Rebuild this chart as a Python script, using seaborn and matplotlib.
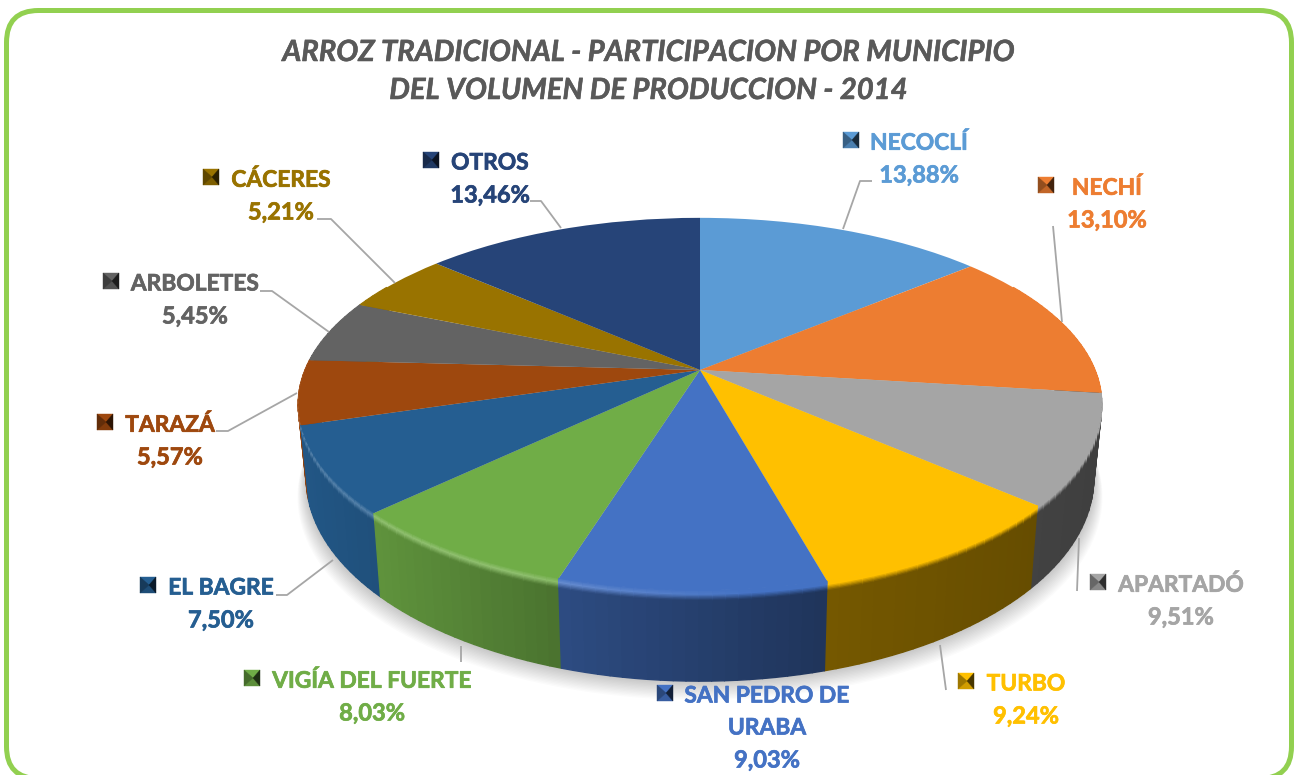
import numpy as np
import matplotlib
matplotlib.use("Agg")
import matplotlib.pyplot as plt
import matplotlib.patheffects as pe
import seaborn as sns
from matplotlib.collections import PolyCollection
from matplotlib.patches import FancyBboxPatch
from matplotlib.transforms import Transform

TITLE = ["ARROZ TRADICIONAL - PARTICIPACION POR MUNICIPIO",
         "DEL VOLUMEN DE PRODUCCION - 2014"]
MUNICIPIOS = ["NECOCLÍ", "NECHÍ", "APARTADÓ", "TURBO", "SAN PEDRO DE\nURABA",
              "VIGÍA DEL FUERTE", "EL BAGRE", "TARAZÁ", "ARBOLETES", "CÁCERES", "OTROS"]
PARTICIPACION = [13.88, 13.10, 9.51, 9.24, 9.03, 8.03, 7.50, 5.57, 5.45, 5.21, 13.46]
COLORES = ["#5B9BD5", "#ED7D31", "#A5A5A5", "#FFC000", "#4472C4", "#70AD47",
           "#255E91", "#9E480E", "#636363", "#997300", "#264478"]

# label layout: text centre x, first line y, marker x
LABEL_X = [919, 1107, 1181, 1026, 767, 372, 221, 170, 195, 281, 490]
LABEL_Y = [143, 188, 585, 684, 696, 681, 588, 425, 284, 180, 163]
MARK_X = [851, 1046, 1098, 966, 665, 252, 148, 105, 111, 211, 431]
LEADERS = [[(843, 229), (860, 181), (872, 181)],
           [(1053, 226), (1062, 322)],
           [(1079, 538), (1077, 591)],
           [(940, 645), (946, 690)],
           None,
           [(461, 646), (461, 662)],
           [(333, 560), (287, 595), (276, 595)],
           [(297, 393), (228, 431), (216, 431)],
           [(329, 332), (272, 291), (260, 291)],
           [(395, 283), (331, 219), (317, 219)],
           [(561, 228), (541, 201), (530, 201)]]

# view of the tilted disc
CX, CY, RX, RY, PERSP = 700.0, 370.0, 395.0, 180.0, 0.183
FOOT_X, FOOT_YS, FOOT_DY = 0.98, 1.09, 71.0


def project(x, y, z=0.0):
    """Unit-disc coordinates -> pixel coordinates; z runs 0 (top) .. 1 (foot)."""
    den = 1 + PERSP * y
    px = RX * x / den
    py = -RY * y / den
    px = px * (1 + (FOOT_X - 1) * z)
    py = py + z * ((FOOT_YS - 1) * py + FOOT_DY)
    return CX + px, CY + py


class DiscTransform(Transform):
    input_dims = output_dims = 2
    is_separable = False
    has_inverse = False

    def transform_non_affine(self, values):
        values = np.asarray(values, dtype=float)
        return np.column_stack(project(values[:, 0], values[:, 1]))


def mix(a, b, t):
    return tuple(np.asarray(a) * (1 - t) + np.asarray(b) * t)


sns.set_theme(style="white")
plt.rcParams["font.family"] = ["Lato", "DejaVu Sans"]
palette = sns.color_palette(COLORES)

fig = plt.figure(figsize=(13, 7.75), dpi=100, facecolor="white")
ax = fig.add_axes([0, 0, 1, 1])

wedges, _ = ax.pie(PARTICIPACION, colors=palette, startangle=90, counterclock=False,
                   wedgeprops=dict(linewidth=0))
ax.set_aspect("auto")
ax.set_xlim(0, 1300)
ax.set_ylim(775, 0)
ax.axis("off")

# rounded frame
ax.add_patch(FancyBboxPatch((6.5, 10.5), 1285, 768, boxstyle="round,pad=0,rounding_size=32",
                            fc="white", ec="#92D050", lw=3.6, zorder=0))

# soft floor shadow
angles = np.radians(np.linspace(0, 360, 241))
for k in range(14, 0, -1):
    sx, sy = project(np.sin(angles), np.cos(angles), 1.0)
    sx = CX + (sx - CX) * (1 + 0.0016 * k)
    sy = sy + 1.35 * k
    ax.fill(sx, sy, color="black", alpha=0.016, lw=0, zorder=1)

# side wall with a lit rim
edges = np.cumsum([0] + PARTICIPACION) / sum(PARTICIPACION) * 360
BEVEL = 0.115
z_levels = np.r_[np.linspace(0, BEVEL, 9), 1.0]
faces, face_cols, order = [], [], []
for i, base in enumerate(palette):
    lo, hi = max(edges[i], 60), min(edges[i + 1], 300)
    if hi <= lo:
        continue
    n = max(2, int((hi - lo) / 1.5))
    th = np.radians(np.linspace(lo, hi, n + 1))
    for a, b in zip(th[:-1], th[1:]):
        xa, ya = np.sin(a), np.cos(a)
        xb, yb = np.sin(b), np.cos(b)
        xm = (xa + xb) / 2
        px = RX * xm / (1 + PERSP * (ya + yb) / 2)
        shade = np.interp(px, [-400, -326, -140, 127, 337, 400], [0.92, 0.85, 0.66, 0.46, 0.40, 0.38])
        wall = mix((0, 0, 0), base, shade)
        glow = np.clip((60 - px) / 240, 0, 1)
        light = mix(base, (1, 1, 1), 0.22 * glow)
        for z0, z1 in zip(z_levels[:-1], z_levels[1:]):
            zc = (z0 + z1) / 2
            u = zc / BEVEL
            if u >= 1:
                col = wall
            elif u < 0.45:
                col = mix(base, light, u / 0.45)
            else:
                col = mix(light, wall, (u - 0.45) / 0.55)
            p = [project(xa, ya, z0), project(xb, yb, z0), project(xb, yb, z1), project(xa, ya, z1)]
            faces.append(p)
            face_cols.append(col)
            order.append((ya + yb) / 2 - 1e-3 * zc)
idx = np.argsort(-np.asarray(order))
ax.add_collection(PolyCollection([faces[j] for j in idx], facecolors=[face_cols[j] for j in idx],
                                 edgecolors="face", linewidths=1.0, zorder=2))

# top face comes from the pie itself
disc = DiscTransform()
for w in wedges:
    w.set_transform(disc + ax.transData)
    w.set_zorder(3)
    w.set_clip_on(False)

# leaders, labels, bevelled key squares
for i, name in enumerate(MUNICIPIOS):
    col = palette[i]
    if LEADERS[i]:
        xs, ys = zip(*LEADERS[i])
        ax.plot(xs, ys, color="#A6A6A6", lw=1.3, zorder=4, solid_capstyle="butt")
    names = name.split("\n")
    lines = names + [f"{PARTICIPACION[i]:.2f}".replace(".", ",") + "%"]
    for j, line in enumerate(lines):
        size = 16.4 if j < len(names) else 17
        ax.text(LABEL_X[i], LABEL_Y[i] + j * 32, line, color=col, fontsize=size, fontweight="bold",
                ha="center", va="center", zorder=5,
                path_effects=[pe.withStroke(linewidth=0.5, foreground=col)])
    mx, my, h = MARK_X[i], LABEL_Y[i] - 3, 8
    ax.fill([mx - h, mx + h, mx + h, mx - h], [my - h, my - h, my + h, my + h], color=col, lw=0, zorder=5)
    ax_, ay_ = mx + 1, my
    tris = [([mx - h, mx + h, ax_], [my - h, my - h, ay_], col),
            ([mx - h, mx + h, ax_], [my + h, my + h, ay_], mix((0, 0, 0), col, 0.82)),
            ([mx - h, mx - h, ax_], [my - h, my + h, ay_], mix((0, 0, 0), col, 0.62)),
            ([mx + h, mx + h, ax_], [my - h, my + h, ay_], mix((0, 0, 0), col, 0.28))]
    for tx, ty, c in tris:
        ax.fill(tx, ty, facecolor=c, edgecolor=c, lw=0.3, zorder=6)

for y, line in zip((53, 91), TITLE):
    ax.text(648, y, line, color="#595959", fontsize=21, fontweight="bold", fontstyle="italic",
            ha="center", va="center", zorder=5,
            path_effects=[pe.withStroke(linewidth=0.4, foreground="#595959")])

fig.savefig("out.png", dpi=100)
